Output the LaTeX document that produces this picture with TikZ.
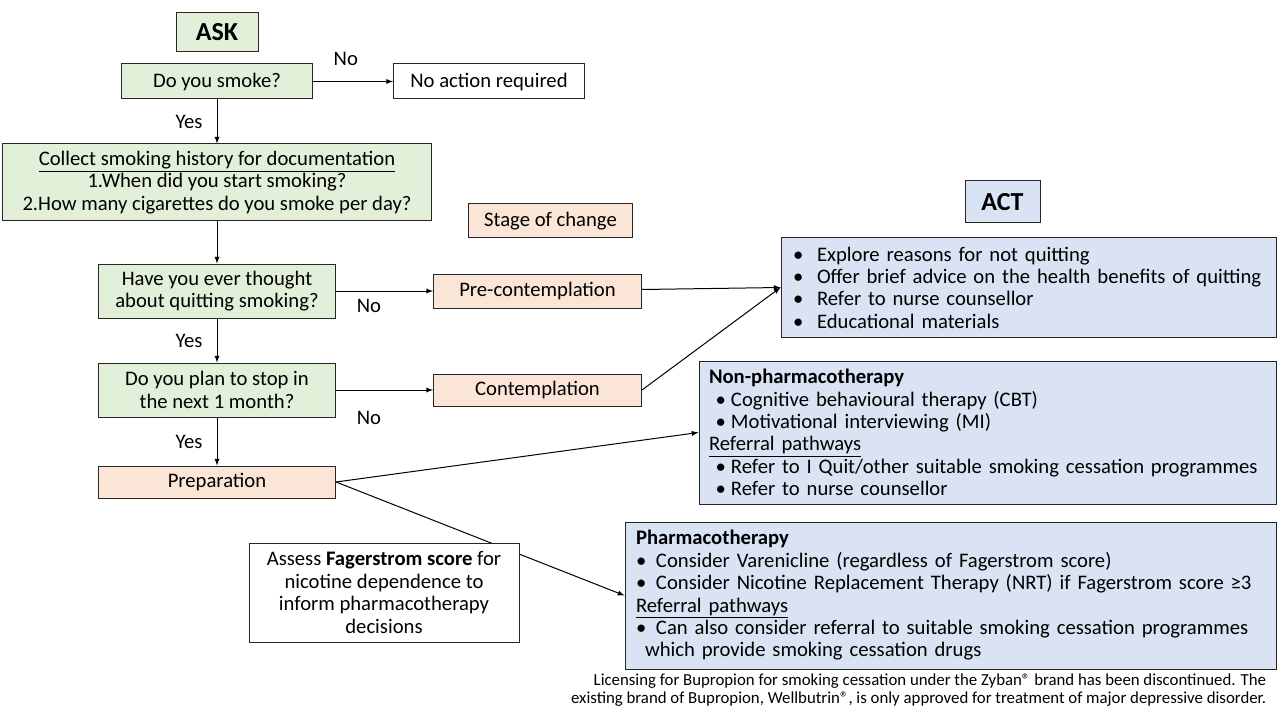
\documentclass[tikz,border=0pt]{standalone}
\usepackage{fontspec}
\setmainfont{Carlito}
\usetikzlibrary{positioning, arrows}
\definecolor{askgreen}{HTML}{E2F0D9}
\definecolor{stageorange}{HTML}{FBE5D6}
\definecolor{actblue}{HTML}{DAE3F3}
\definecolor{edgegray}{HTML}{262626}
\tikzstyle{askbox} = [rectangle, align=center, draw=edgegray, fill=askgreen, line width=0.75pt, inner sep=0pt]
\tikzstyle{stagebox} = [rectangle, align=center, draw=edgegray, fill=stageorange, line width=0.75pt, inner sep=0pt]
\tikzstyle{actbox} = [rectangle, align=left, draw=edgegray, fill=actblue, line width=0.75pt, inner ysep=0pt]
\tikzstyle{plainbox} = [rectangle, align=center, draw=edgegray, fill=white, line width=0.75pt, inner sep=0pt]
\tikzstyle{arrow} = [line width=0.75pt, draw=black, ->, >=latex]
\newcommand{\bul}[1]{\makebox[#1][l]{\textbullet}}

\begin{document}
\begin{tikzpicture}[x=0.75pt, y=-0.75pt, font=\fontsize{15.5}{16.8}\selectfont]
\useasboundingbox (0,0) rectangle (1280,720);

% Ask side
\node (K) [askbox, minimum width=61.5pt, minimum height=29.25pt, font=\fontsize{19.5}{20}\selectfont\bfseries] at (217,32.5) {ASK};
\node (Q1) [askbox, below=8.25pt of K, minimum width=143.25pt, minimum height=26.25pt] {Do you smoke?};
\node (N) [plainbox, right=60pt of Q1, minimum width=143.25pt, minimum height=26.25pt] {No action required};
\node (Q2) [askbox, below=33pt of Q1, minimum width=321.75pt, minimum height=57.75pt] {\underline{Collect smoking history for documentation}\\1.When did you start smoking?\\2.How many cigarettes do you smoke per day?};
\node (Q3) [askbox, below=31.5pt of Q2, minimum width=177.75pt, minimum height=40.5pt] {Have you ever thought\\about quitting smoking?};
\node (Q4) [askbox, below=33pt of Q3, minimum width=177.75pt, minimum height=40.5pt] {Do you plan to stop in\\the next 1 month?};

% Stages of change
\node (S1) [stagebox, below=36pt of Q4, minimum width=177.75pt, minimum height=24pt] {Preparation};
\node (S2) [stagebox, right=72.75pt of Q3, minimum width=156pt, minimum height=25.5pt] {Pre-contemplation};
\node (S3) [stagebox, right=72.75pt of Q4, minimum width=156pt, minimum height=24pt] {Contemplation};
\node (S) [stagebox, above=26.25pt of S2, xshift=9.75pt, minimum width=123pt, minimum height=25.5pt] {Stage of change};

% Act side
\node (A1) [actbox, minimum height=74.25pt, inner xsep=9pt, text width=353.25pt] at (1028.5,287.5) {\bul{18pt}Explore reasons for not quitting\\\bul{18pt}Offer brief advice on the health benefits of quitting\\\bul{18pt}Refer to nurse counsellor\\\bul{18pt}Educational materials};
\node (A) [askbox, fill=actblue, above=10.5pt of A1, xshift=-19.5pt, minimum width=56.25pt, minimum height=31.5pt, font=\fontsize{19.5}{20}\selectfont\bfseries] {ACT};
\node (A2) [actbox, below left=17.25pt and 0pt of A1.south east, minimum height=107.25pt, inner xsep=7.5pt, text width=417.75pt] {\textbf{Non-pharmacotherapy}\\\hspace{5pt}\bul{11.5pt}Cognitive behavioural therapy (CBT)\\\hspace{5pt}\bul{11.5pt}Motivational interviewing (MI)\\\underline{Referral pathways}\\\hspace{5pt}\bul{11.5pt}Refer to I Quit/other suitable smoking cessation programmes\\\hspace{5pt}\bul{11.5pt}Refer to nurse counsellor};
\node (A3) [actbox, below left=12.75pt and 0pt of A2.south east, minimum height=110.25pt, inner xsep=8.25pt, text width=471.75pt] {\textbf{Pharmacotherapy}\\\bul{15pt}Consider Varenicline (regardless of Fagerstrom score)\\\bul{15pt}Consider Nicotine Replacement Therapy (NRT) if Fagerstrom score ≥3\\\underline{Referral pathways}\\\bul{15pt}Can also consider referral to suitable smoking cessation programmes\\\hspace{6.75pt}which provide smoking cessation drugs};

% Connecting arrows
\draw [arrow] (Q1) -- node[above=7.9pt, pos=0.41] {No} (N);
\draw [arrow] (Q1) -- node[left=7.2pt] {Yes} (Q2);
\draw [arrow] (Q2.south) -- (Q3.north);
\draw [arrow] (Q3) -- node[below=2.3pt, pos=0.34] {No} (S2);
\draw [arrow] (Q3) -- node[left=7.2pt] {Yes} (Q4);
\draw [arrow] (Q4) -- node[below=12pt, pos=0.34] {No} (S3);
\draw [arrow] (Q4) -- node[left=7.2pt] {Yes} (S1);
\draw [arrow] (S2) -- (A1.west);
\draw [arrow] (S3.east) -- (A1.west);
\draw [arrow] (S1.east) -- (A2.west);
\draw [arrow] (S1.east) -- (A3.west);

% Fagerstrom note and footnote
\node (F) [plainbox, left=78.75pt of A3, yshift=2.25pt, minimum width=202.5pt, minimum height=74.25pt] {Assess \textbf{Fagerstrom score} for\\nicotine dependence to\\inform pharmacotherapy\\decisions};
\node (L) [below left=3pt and 7.5pt of A3.south east, align=right, inner sep=0pt, font=\fontsize{12.6}{13.5}\selectfont] {Licensing for Bupropion for smoking cessation under the Zyban® brand has been discontinued. The\\existing brand of Bupropion, Wellbutrin®, is only approved for treatment of major depressive disorder.};

\end{tikzpicture}
\end{document}
